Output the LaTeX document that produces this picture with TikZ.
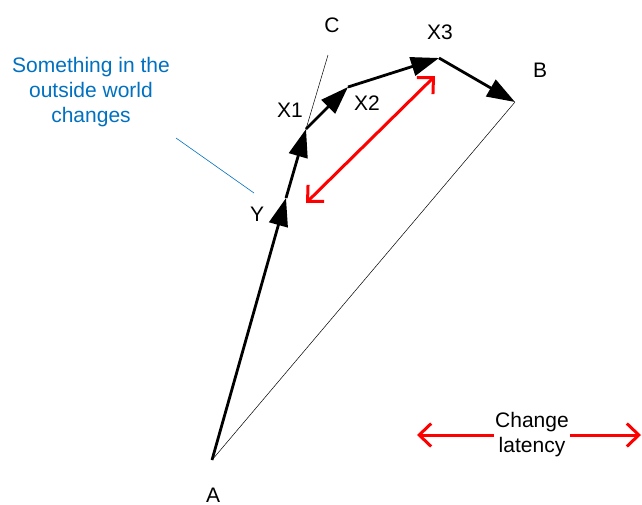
\documentclass[tikz,border=0pt]{standalone}
\usepackage{fontspec}
\setmainfont{Liberation Sans}
\usetikzlibrary{arrows.meta}
\definecolor{noteblue}{RGB}{0,112,192}

\begin{document}
\begin{tikzpicture}[x=1pt, y=-1pt, every node/.style={font=\fontsize{21}{25}\selectfont}, >={Triangle[length=28pt, width=19pt]},
	move/.style={line width=2.8pt, ->},
	latency/.style={red, line width=3pt, {Straight Barb[length=12pt, width=23pt]}-{Straight Barb[length=12pt, width=23pt]}}]
	\useasboundingbox (0,0) rectangle (642,504);
	\coordinate (A) at (212,460);
	\coordinate (Y) at (286,198);
	\coordinate (X1) at (306,129);
	\coordinate (X2) at (348,87);
	\coordinate (X3) at (439,58);
	\coordinate (B) at (515,102);
	\coordinate (C) at (328,55);
	\draw[line width=0.5pt] (A) -- (B);
	\draw[line width=0.5pt] (X1) -- (C);
	\foreach \from/\to in {A/Y, Y/X1, X1/X2, X2/X3, X3/B} {\draw[move] (\from) -- (\to);}
	\foreach \name/\pos/\lab in {lY/{257,214}/Y, lX1/{290,110}/X1, lX2/{367,103}/X2, lX3/{440,32}/X3, lB/{540,70}/B, lC/{332,25}/C} {\node (\name) at (\pos) {\lab};}
	\node[inner sep=0pt, anchor=base] (lA) at (213,502) {A};
	\node[noteblue, align=center] (note) at (91,92) {Something in the\\outside world\\changes};
	\coordinate (notestart) at (176,138);
	\coordinate (noteend) at (254,193);
	\draw[noteblue, line width=0.6pt] (notestart) -- (noteend);
	\coordinate (lo) at (306,203);
	\coordinate (hi) at (435,76);
	\draw[latency] (lo) -- (hi);
	\coordinate (latL) at (417,435);
	\coordinate (latR) at (641,435);
	\draw[latency] (latL) -- (latR);
	\node[fill=white, align=center, inner xsep=1pt, inner ysep=0pt] (lat) at (532,435) {Change\\latency};
\end{tikzpicture}
\end{document}
